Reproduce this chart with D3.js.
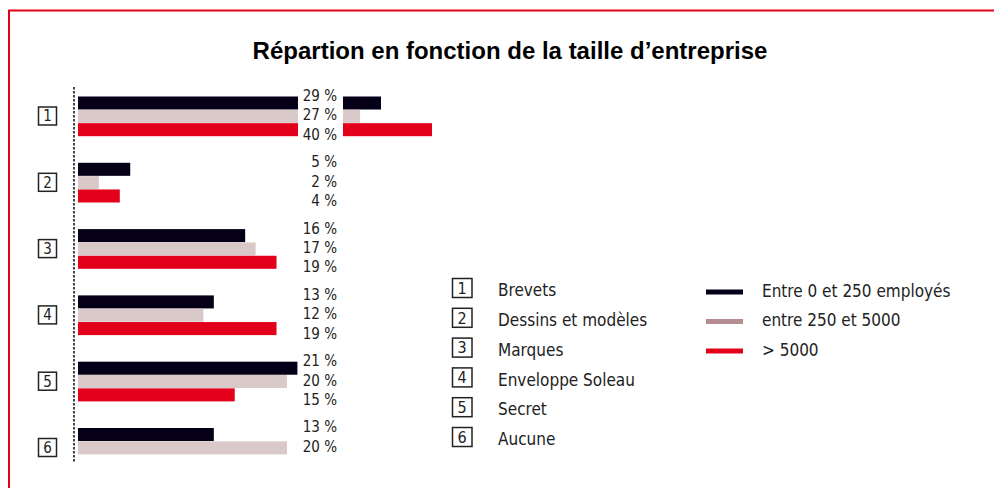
<!DOCTYPE html>
<html lang="fr">
<head>
<meta charset="utf-8">
<title>Répartion en fonction de la taille d'entreprise</title>
<script src="https://cdn.jsdelivr.net/npm/d3@7"></script>
<style>
    body { margin: 0; background: #fff; }
    svg { display: block; }
</style>
</head>
<body>
<div id="chart"></div>
<script>
// Données du graphique
const categories = ["1", "2", "3", "4", "5", "6"];
const categoryNames = ["Brevets", "Dessins et modèles", "Marques", "Enveloppe Soleau", "Secret", "Aucune"];
const seriesNames = ["Entre 0 et 250 employés", "entre 250 et 5000", "> 5000"];
const small = [29, 5, 16, 13, 21, 13];
const medium = [27, 2, 17, 12, 20, 20];
const large = [40, 4, 19, 19, 15, null];

const width = 994;
const height = 488;
const condensed = "'DejaVu Sans Condensed', 'Liberation Sans Narrow', sans-serif";

const barColors = ["#050018", "#d9c9c9", "#e3001b"];
const legendColors = ["#050018", "#b38d8f", "#e3001b"];

const svg = d3.select("#chart").append("svg")
    .attr("width", width)
    .attr("height", height);

// Cadre rouge (ouvert à droite et en bas)
svg.append("path")
    .attr("d", `M9,${height + 5} L9,10.5 L${width + 5},10.5`)
    .attr("fill", "none")
    .attr("stroke", "#e3001b")
    .attr("stroke-width", 2);

// Titre
svg.append("text")
    .attr("x", 510)
    .attr("y", 59)
    .attr("text-anchor", "middle")
    .style("font-family", "'Liberation Sans', Arial, sans-serif")
    .style("font-weight", "bold")
    .style("font-size", "24px")
    .style("fill", "#000")
    .text("Répartion en fonction de la taille d’entreprise");

// Échelles
const x = d3.scaleLinear().domain([0, 29, 40]).range([78, 381, 432]);
const breakStart = 298, breakEnd = 343;
const y = d3.scalePoint().domain(categories).range([116.5, 448]);
const yInner = d3.scaleBand().domain(d3.range(3)).range([-20, 20]);
const yLabel = d3.scalePoint().domain(d3.range(3)).range([-21, 18]);

// Ligne d'axe pointillée
svg.append("line")
    .attr("x1", 74).attr("x2", 74)
    .attr("y1", 87).attr("y2", 463)
    .attr("stroke", "#333")
    .attr("stroke-width", 1.8)
    .attr("stroke-dasharray", "2.5,1.5");

// Construction des lignes de données
const rows = categories.map((c, i) => ({
    cat: c,
    values: [small[i], medium[i], large[i]]
}));

const groups = svg.selectAll(".group")
    .data(rows)
    .enter()
    .append("g")
    .attr("class", "group")
    .attr("transform", d => `translate(0, ${y(d.cat)})`);

// Barres (avec coupure pour les valeurs au-delà de la rupture)
groups.each(function(d) {
    const g = d3.select(this);
    d.values.forEach((v, s) => {
        if (v == null) return;
        const end = x(v);
        const yTop = yInner(s);
        const h = yInner.bandwidth() - 0.3;
        g.append("rect")
            .attr("x", x(0))
            .attr("y", yTop)
            .attr("width", Math.min(end, breakStart) - x(0))
            .attr("height", h)
            .attr("fill", barColors[s]);
        if (end > breakEnd) {
            g.append("rect")
                .attr("x", breakEnd)
                .attr("y", yTop)
                .attr("width", end - breakEnd)
                .attr("height", h)
                .attr("fill", barColors[s]);
        }
        // Étiquette de valeur
        g.append("text")
            .attr("x", 337)
            .attr("y", yLabel(s))
            .attr("dy", "0.36em")
            .attr("text-anchor", "end")
            .style("font-family", condensed)
            .style("font-size", "15px")
            .style("fill", "#222")
            .text(`${v} %`);
    });

    // Numéro de catégorie encadré
    g.append("rect")
        .attr("x", 38.5)
        .attr("y", -9.5)
        .attr("width", 18)
        .attr("height", 18)
        .attr("fill", "#fff")
        .attr("stroke", "#222")
        .attr("stroke-width", 1.5);
    g.append("text")
        .attr("x", 47.5)
        .attr("y", -0.5)
        .attr("dy", "0.36em")
        .attr("text-anchor", "middle")
        .style("font-family", condensed)
        .style("font-size", "15px")
        .style("fill", "#222")
        .text(d.cat);
});

// Légende des catégories
const yLeg = d3.scalePoint().domain(categories).range([290, 439]);

const catLegend = svg.selectAll(".cat-legend")
    .data(categories)
    .enter()
    .append("g")
    .attr("class", "cat-legend")
    .attr("transform", d => `translate(0, ${yLeg(d)})`);

catLegend.append("rect")
    .attr("x", 452.5)
    .attr("y", -11.5)
    .attr("width", 19.5)
    .attr("height", 19)
    .attr("fill", "#fff")
    .attr("stroke", "#222")
    .attr("stroke-width", 1.5);

catLegend.append("text")
    .attr("x", 462.2)
    .attr("y", -2)
    .attr("dy", "0.36em")
    .attr("text-anchor", "middle")
    .style("font-family", condensed)
    .style("font-size", "16px")
    .style("fill", "#222")
    .text(d => d);

catLegend.append("text")
    .attr("x", 498)
    .attr("y", 0)
    .attr("dy", "0.36em")
    .style("font-family", condensed)
    .style("font-size", "17px")
    .style("fill", "#222")
    .text((d, i) => categoryNames[i]);

// Légende des séries
const ySer = d3.scalePoint().domain(d3.range(3)).range([292, 351]);

const serLegend = svg.selectAll(".ser-legend")
    .data(seriesNames)
    .enter()
    .append("g")
    .attr("class", "ser-legend")
    .attr("transform", (d, i) => `translate(0, ${ySer(i)})`);

serLegend.append("line")
    .attr("x1", 706).attr("x2", 743)
    .attr("y1", 0).attr("y2", 0)
    .attr("stroke", (d, i) => legendColors[i])
    .attr("stroke-width", 5);

serLegend.append("text")
    .attr("x", 762)
    .attr("y", -1.5)
    .attr("dy", "0.36em")
    .style("font-family", condensed)
    .style("font-size", "17px")
    .style("fill", "#222")
    .text(d => d);
</script>
</body>
</html>
